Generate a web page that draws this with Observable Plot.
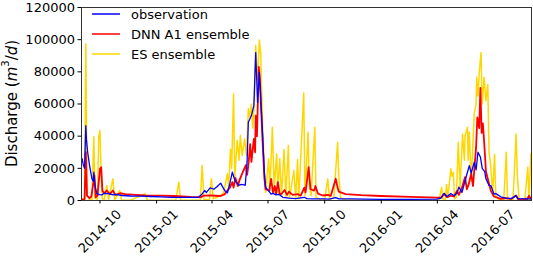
<!DOCTYPE html>
<html><head><meta charset="utf-8">
<script src="https://cdn.jsdelivr.net/npm/d3@7"></script>
<script src="https://cdn.jsdelivr.net/npm/@observablehq/plot@0.6"></script>
<style>body{margin:0;background:#fff;} svg{font-family:"DejaVu Sans",sans-serif;}</style>
</head><body><div id="chart"></div>
<script>
const obsDates = ["2014-09-02","2014-09-04","2014-09-06","2014-09-08","2014-09-09","2014-09-11","2014-09-14","2014-09-18","2014-09-20","2014-09-21","2014-09-23","2014-09-26","2014-09-30","2014-10-04","2014-10-08","2014-10-15","2014-10-22","2014-10-26","2014-11-06","2014-11-20","2014-12-06","2014-12-22","2015-01-08","2015-01-24","2015-02-09","2015-02-25","2015-03-10","2015-03-16","2015-03-20","2015-03-23","2015-03-29","2015-04-04","2015-04-09","2015-04-15","2015-04-19","2015-04-22","2015-04-26","2015-04-29","2015-05-04","2015-05-07","2015-05-09","2015-05-15","2015-05-19","2015-05-25","2015-05-28","2015-05-30","2015-06-04","2015-06-08","2015-06-11","2015-06-14","2015-06-17","2015-06-19","2015-06-22","2015-06-25","2015-06-27","2015-07-03","2015-07-06","2015-07-09","2015-07-14","2015-07-19","2015-07-25","2015-08-04","2015-08-15","2015-08-29","2015-09-02","2015-09-12","2015-09-28","2015-10-08","2015-10-19","2015-10-24","2015-11-12","2015-12-31","2016-02-18","2016-03-31","2016-04-07","2016-04-12","2016-04-17","2016-04-23","2016-04-28","2016-05-03","2016-05-06","2016-05-11","2016-05-17","2016-05-23","2016-05-26","2016-05-31","2016-06-03","2016-06-06","2016-06-10","2016-06-13","2016-06-17","2016-06-19","2016-06-24","2016-06-27","2016-07-02","2016-07-05","2016-07-13","2016-07-21","2016-07-30","2016-08-07","2016-08-10","2016-08-20","2016-08-31"];
const obsValues = [26000,22000,20000,46600,38000,30000,22000,13500,12000,17600,9000,4300,3700,3500,4500,4300,3500,3800,3100,2800,2700,2500,2300,2000,1900,1900,2000,4100,6200,5000,7800,7000,8500,10800,8000,6000,4800,9000,17600,14000,12000,9500,10000,9500,24000,48600,52800,59000,92000,61000,79700,65000,42400,17600,8300,5500,4000,4400,3500,3800,2000,1500,1200,2000,1200,1000,1000,900,1800,1000,1000,700,700,800,1500,4500,2500,4300,3000,4500,8300,5000,13500,21700,17000,23800,19000,30000,27000,20000,18000,13500,9300,9300,4000,4300,2300,1500,1200,3000,1200,1000,1000];

const dnnDates = ["2014-09-02","2014-09-06","2014-09-08","2014-09-10","2014-09-14","2014-09-17","2014-09-22","2014-09-24","2014-09-27","2014-10-01","2014-10-03","2014-10-05","2014-10-08","2014-10-12","2014-10-17","2014-10-22","2014-10-26","2014-11-03","2014-11-11","2014-11-28","2014-12-14","2015-01-08","2015-01-29","2015-02-25","2015-03-14","2015-03-18","2015-03-30","2015-04-15","2015-04-22","2015-04-26","2015-04-30","2015-05-04","2015-05-06","2015-05-09","2015-05-13","2015-05-16","2015-05-21","2015-05-26","2015-05-28","2015-05-30","2015-06-02","2015-06-04","2015-06-08","2015-06-10","2015-06-11","2015-06-13","2015-06-16","2015-06-18","2015-06-20","2015-06-22","2015-06-25","2015-06-27","2015-07-03","2015-07-06","2015-07-09","2015-07-12","2015-07-14","2015-07-17","2015-07-20","2015-07-23","2015-07-28","2015-08-01","2015-08-04","2015-08-10","2015-08-18","2015-08-23","2015-08-29","2015-08-31","2015-09-05","2015-09-08","2015-09-14","2015-09-16","2015-09-20","2015-09-28","2015-10-06","2015-10-11","2015-10-19","2015-10-22","2015-10-24","2015-11-04","2015-11-29","2015-12-31","2016-02-18","2016-04-01","2016-04-07","2016-04-12","2016-04-17","2016-04-23","2016-04-28","2016-05-03","2016-05-06","2016-05-11","2016-05-16","2016-05-19","2016-05-22","2016-05-26","2016-05-29","2016-06-03","2016-06-05","2016-06-08","2016-06-10","2016-06-12","2016-06-14","2016-06-16","2016-06-19","2016-06-23","2016-06-27","2016-07-02","2016-07-13","2016-07-21","2016-07-30","2016-08-07","2016-08-10","2016-08-25","2016-08-28","2016-08-31"];
const dnnValues = [500,800,30000,3000,1500,2500,15500,2000,3000,19700,20700,6000,4500,6200,4000,6200,3500,4500,4000,3500,3100,3000,2800,2200,2100,3000,3100,2800,4000,6200,8000,11400,8000,14000,9000,13000,17600,22000,16000,21700,35000,24000,38300,30000,52800,40000,83000,73500,55000,38000,14000,7000,6200,13500,5000,9000,4000,11400,4000,4200,6500,3500,5500,3500,4000,3000,8000,5000,20700,7000,6200,9000,4300,3100,3500,2900,13500,8000,5500,4000,3300,2800,2200,1800,1800,4000,2000,3000,2500,6000,3500,8000,14500,7000,10000,16600,9000,33000,51700,45000,70000,42000,48000,37000,18000,12000,6000,2500,1000,1500,1000,3100,800,800,3000,1000];

const esDates = ["2014-09-02","2014-09-06","2014-09-08","2014-09-10","2014-09-14","2014-09-18","2014-09-21","2014-09-23","2014-09-27","2014-09-29","2014-10-01","2014-10-03","2014-10-05","2014-10-08","2014-10-12","2014-10-15","2014-10-22","2014-10-25","2014-11-02","2014-11-05","2014-11-20","2014-12-13","2014-12-17","2015-01-08","2015-02-01","2015-02-06","2015-02-09","2015-02-25","2015-03-13","2015-03-16","2015-03-19","2015-03-28","2015-03-31","2015-04-03","2015-04-09","2015-04-15","2015-04-20","2015-04-26","2015-04-28","2015-05-01","2015-05-03","2015-05-06","2015-05-08","2015-05-12","2015-05-15","2015-05-17","2015-05-20","2015-05-24","2015-05-27","2015-05-30","2015-06-01","2015-06-04","2015-06-06","2015-06-09","2015-06-11","2015-06-14","2015-06-17","2015-06-19","2015-06-22","2015-06-25","2015-06-27","2015-07-02","2015-07-04","2015-07-08","2015-07-11","2015-07-15","2015-07-17","2015-07-20","2015-07-23","2015-07-27","2015-07-30","2015-08-03","2015-08-05","2015-08-12","2015-08-15","2015-08-18","2015-08-20","2015-08-28","2015-08-30","2015-09-04","2015-09-06","2015-09-09","2015-09-15","2015-09-17","2015-09-24","2015-10-01","2015-10-06","2015-10-09","2015-10-16","2015-10-22","2015-10-24","2015-10-27","2015-11-04","2015-11-29","2015-12-31","2016-02-18","2016-04-04","2016-04-08","2016-04-10","2016-04-14","2016-04-16","2016-04-18","2016-04-23","2016-04-25","2016-04-27","2016-04-29","2016-05-02","2016-05-05","2016-05-08","2016-05-12","2016-05-15","2016-05-16","2016-05-20","2016-05-21","2016-05-23","2016-05-26","2016-05-31","2016-06-03","2016-06-04","2016-06-06","2016-06-08","2016-06-11","2016-06-13","2016-06-16","2016-06-19","2016-06-22","2016-06-24","2016-06-27","2016-06-30","2016-07-03","2016-07-05","2016-07-10","2016-07-18","2016-07-22","2016-07-24","2016-08-02","2016-08-07","2016-08-09","2016-08-12","2016-08-21","2016-08-26","2016-08-28","2016-08-31"];
const esValues = [1000,500,97300,3000,500,300,39700,1500,800,39700,43500,15000,1000,500,9300,500,13500,300,6200,300,200,4100,300,200,200,11400,300,200,300,21700,500,800,13500,1000,2000,3000,5000,16600,8000,32000,20000,66300,15000,37300,25000,40400,28000,38300,28000,57000,52000,60000,45000,62000,96300,75000,99800,92000,50000,20000,5200,25900,6000,45500,8000,29000,5000,25900,3000,31700,2000,34200,1500,18600,1000,25500,1000,66900,3000,42400,10000,3000,45500,2000,500,300,13500,500,2000,36200,15000,1500,500,200,200,200,300,8300,1000,300,10000,2000,19700,15000,17500,1000,2000,36200,8000,41400,25000,40000,45500,25000,42500,12000,53800,60000,76600,65000,78700,92000,60000,76600,62000,72000,30000,20700,5000,28600,3000,500,300,30000,1000,300,41400,15000,500,300,20700,500,29000];

const seriesNames = ["observation", "DNN A1 ensemble", "ES ensemble"];
const seriesColors = ["#0000ff", "#ff0000", "#ffd700"];
const xTickDates = ["2014-10-01","2015-01-01","2015-04-01","2015-07-01","2015-10-01","2016-01-01","2016-04-01","2016-07-01"];
const xTickLabels = ["2014-10","2015-01","2015-04","2015-07","2015-10","2016-01","2016-04","2016-07"];
const yTicks = [0, 20000, 40000, 60000, 80000, 100000, 120000];
const xDomain = ["2014-09-01", "2016-09-01"];
const yDomain = [0, 120000];

const toRows = (dates, values) => dates.map((d, i) => ({date: new Date(d), value: values[i]}));
const obs = toRows(obsDates, obsValues);
const dnn = toRows(dnnDates, dnnValues);
const es = toRows(esDates, esValues);
const ticks = xTickDates.map((d, i) => ({date: new Date(d), label: xTickLabels[i]}));

const chart = Plot.plot({
  width: 533, height: 256,
  marginLeft: 81, marginRight: 2, marginTop: 7, marginBottom: 56,
  style: {fontFamily: "DejaVu Sans", fontSize: "13px", background: "white", color: "black"},
  x: {type: "utc", domain: xDomain.map(d => new Date(d))},
  y: {domain: yDomain},
  marks: [
    Plot.line(es, {x: "date", y: "value", stroke: seriesColors[2], strokeWidth: 1.5}),
    Plot.line(dnn, {x: "date", y: "value", stroke: seriesColors[1], strokeWidth: 1.8}),
    Plot.line(obs, {x: "date", y: "value", stroke: seriesColors[0], strokeWidth: 1.3}),
    Plot.frame({stroke: "#333", strokeWidth: 1}),
    Plot.axisY({ticks: yTicks, tickSize: 3.5, tickPadding: 3, fontSize: 13, label: null, tickFormat: d => String(d)}),
    Plot.axisX({ticks: ticks.map(t => t.date), tickSize: 3.5, tickFormat: () => "", label: null}),
    Plot.text(ticks, {x: "date", text: "label", frameAnchor: "bottom", dy: 31, rotate: -45, textAnchor: "middle", lineAnchor: "middle", fontSize: 13, fill: "black"})
  ]
});
document.getElementById("chart").appendChild(chart);

const svg = d3.select(chart);
// y-axis title with italic m^3/d
const yl = svg.append("text")
  .attr("transform", "translate(12,103.5) rotate(-90)")
  .attr("text-anchor", "middle")
  .attr("dominant-baseline", "middle")
  .attr("font-size", 15)
  .attr("fill", "black");
yl.append("tspan").text("Discharge (");
yl.append("tspan").attr("font-style", "italic").text("m");
yl.append("tspan").attr("font-size", 10).attr("dy", "-6").text("3");
yl.append("tspan").attr("dy", "6").text("/");
yl.append("tspan").attr("font-style", "italic").text("d");
yl.append("tspan").text(")");

// legend
const lg = svg.append("g").attr("text-anchor", "start");
seriesNames.forEach((name, i) => {
  const y = 14 + i * 20;
  lg.append("line").attr("x1", 92).attr("x2", 120).attr("y1", y).attr("y2", y)
    .attr("stroke", seriesColors[i]).attr("stroke-width", 1.5);
  lg.append("text").attr("x", 131).attr("y", y).attr("dy", "0.35em")
    .attr("text-anchor", "start")
    .attr("font-size", 13).attr("fill", "black").text(name);
});
</script>
</body></html>
